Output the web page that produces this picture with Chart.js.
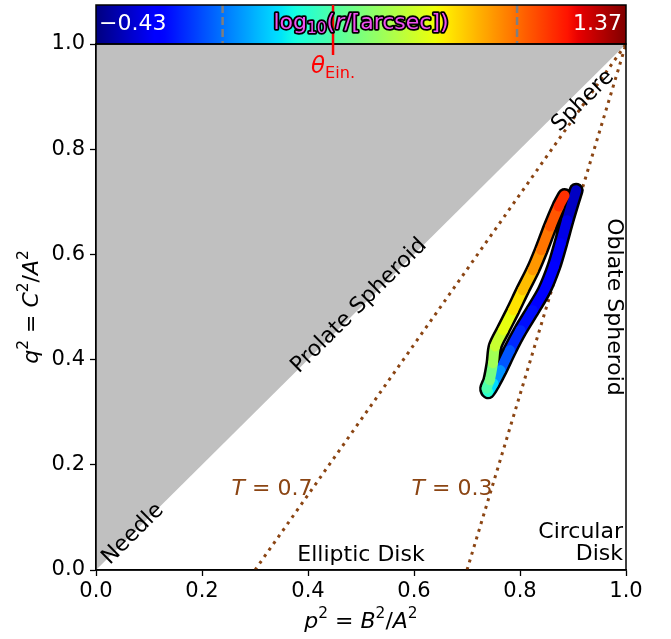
<!DOCTYPE html>
<html><head><meta charset="utf-8">
<script src="https://cdn.jsdelivr.net/npm/chart.js@4.4.0/dist/chart.umd.min.js"></script>
<style>html,body{margin:0;padding:0;background:#fff}</style>
</head><body>
<canvas id="c" width="671" height="639"></canvas>
<script>
// ---- data ----
const profileP2 = [0.906,0.889,0.877,0.864,0.846,0.824,0.801,0.781,0.763,0.750,0.740,0.737,0.743,0.749,0.753,0.768,0.787,0.805,0.824,0.840,0.857,0.873,0.884];
const profileQ2 = [0.722,0.665,0.621,0.577,0.532,0.494,0.456,0.418,0.380,0.355,0.339,0.345,0.361,0.393,0.425,0.456,0.494,0.532,0.570,0.608,0.653,0.691,0.712];
const profileLogR = [-0.36,-0.29,-0.25,-0.23,-0.21,-0.20,-0.16,-0.11,0.00,0.11,0.25,0.33,0.40,0.51,0.60,0.67,0.74,0.81,0.88,0.96,1.01,1.08,1.15];
const diagP2 = [0,1];
const diagQ2 = [0,1];
const t07P2 = [0.3,1.0];
const t07Q2 = [0.0,1.0];
const t03P2 = [0.7,1.0];
const t03Q2 = [0.0,1.0];
const xTickValues = [0,0.2,0.4,0.6,0.8,1.0];
const yTickValues = [0,0.2,0.4,0.6,0.8,1.0];
const colorbarMin = -0.43;
const colorbarMax = 1.37;
const colorbarDashed = [0.0, 1.0];
const thetaEinLogR = 0.375;

const FONT = '"DejaVu Sans", "Liberation Sans", sans-serif';
const BROWN = '#8B4513';

function interp(pts, t){
  for(let i=1;i<pts.length;i++){
    if(t<=pts[i][0]){const a=pts[i-1],b=pts[i];return a[1]+(b[1]-a[1])*(t-a[0])/(b[0]-a[0]);}
  }
  return pts[pts.length-1][1];
}
function jet(t){
  t=Math.max(0,Math.min(1,t));
  const r=interp([[0,0],[0.35,0],[0.66,1],[0.89,1],[1,0.5]],t);
  const g=interp([[0,0],[0.125,0],[0.375,1],[0.64,1],[0.91,0],[1,0]],t);
  const b=interp([[0,0.5],[0.11,1],[0.34,1],[0.65,0],[1,0]],t);
  return `rgb(${Math.round(r*255)},${Math.round(g*255)},${Math.round(b*255)})`;
}
const norm = v => (v-colorbarMin)/(colorbarMax-colorbarMin);
const pts = (xs,ys)=>xs.map((x,i)=>({x, y:ys[i]}));

function drawRich(ctx, parts, x, y, o){
  const size=o.size;
  const m=[]; let w=0;
  for(const p of parts){
    const fs=(p.sup||p.sub)?size*0.7:size;
    const font=(p.it?'italic ':'')+fs+'px '+FONT;
    ctx.font=font;
    const pw=ctx.measureText(p.t).width;
    m.push({font,pw,dy:p.sup?-size*0.38:(p.sub?size*0.28:0)});
    w+=pw;
  }
  ctx.save();
  ctx.translate(x,y);
  if(o.rot) ctx.rotate(o.rot);
  let cx=o.align==='left'?0:(o.align==='right'?-w:-w/2);
  ctx.textBaseline='middle'; ctx.textAlign='left';
  parts.forEach((p,i)=>{
    ctx.font=m[i].font;
    if(o.stroke){ctx.lineWidth=o.strokeW;ctx.strokeStyle=o.stroke;ctx.lineJoin='round';ctx.strokeText(p.t,cx,m[i].dy);}
    ctx.fillStyle=o.color||'#000';
    ctx.fillText(p.t,cx,m[i].dy);
    cx+=m[i].pw;
  });
  ctx.restore();
}

const decor = {
  id:'decor',
  afterDraw(chart){
    const ctx=chart.ctx, a=chart.chartArea;
    const cbTop=5, cbBot=a.top;
    const cbX = v => a.left + norm(v)*(a.right-a.left);
    const g=ctx.createLinearGradient(a.left,0,a.right,0);
    for(let i=0;i<=100;i++){g.addColorStop(i/100, jet(i/100));}
    ctx.save();
    ctx.fillStyle=g;
    ctx.fillRect(a.left,cbTop,a.right-a.left,cbBot-cbTop);
    ctx.strokeStyle='#7f7f7f'; ctx.lineWidth=2.5; ctx.setLineDash([8,4]);
    for(const v of colorbarDashed){
      const x=cbX(v); ctx.beginPath(); ctx.moveTo(x,cbTop); ctx.lineTo(x,cbBot); ctx.stroke();
    }
    ctx.setLineDash([]);
    ctx.strokeStyle='#000'; ctx.lineWidth=1.5;
    ctx.strokeRect(a.left,cbTop,a.right-a.left,cbBot-cbTop);
    ctx.strokeRect(a.left,a.top,a.right-a.left,a.bottom-a.top);
    const tx=cbX(thetaEinLogR);
    ctx.strokeStyle='#ff0000'; ctx.lineWidth=2.5;
    ctx.beginPath(); ctx.moveTo(tx,cbTop); ctx.lineTo(tx,a.top+11); ctx.stroke();
    ctx.restore();
    drawRich(ctx,[{t:'\u22120.43'}],a.left+3,24,{size:22,align:'left',color:'#fff'});
    drawRich(ctx,[{t:'1.37'}],a.right-4,24,{size:22,align:'right',color:'#fff'});
    drawRich(ctx,[{t:'log'},{t:'10',sub:true},{t:'('},{t:'r',it:true},{t:'/[arcsec])'}],(a.left+a.right)/2,23,{size:22,color:'#f050f0',stroke:'#000',strokeW:3.5});
    drawRich(ctx,[{t:'\u03B8',it:true},{t:'Ein.',sub:true}],tx,67,{size:23,color:'#ff0000'});
    const diagRot=-Math.atan2(a.bottom-a.top,a.right-a.left);
    drawRich(ctx,[{t:'Needle'}],133,534,{size:22,rot:diagRot});
    drawRich(ctx,[{t:'Prolate Spheroid'}],359,306,{size:22,rot:diagRot});
    drawRich(ctx,[{t:'Sphere'}],583,101,{size:22,rot:diagRot});
    drawRich(ctx,[{t:'Oblate Spheroid'}],614,307,{size:22,rot:Math.PI/2});
    drawRich(ctx,[{t:'T',it:true},{t:' = 0.7'}],272,489,{size:22,color:BROWN});
    drawRich(ctx,[{t:'T',it:true},{t:' = 0.3'}],452,489,{size:22,color:BROWN});
    drawRich(ctx,[{t:'Elliptic Disk'}],361,555,{size:22});
    drawRich(ctx,[{t:'Circular'}],623,532,{size:22,align:'right'});
    drawRich(ctx,[{t:'Disk'}],623,554,{size:22,align:'right'});
    drawRich(ctx,[{t:'p',it:true},{t:'2',sup:true},{t:' = '},{t:'B',it:true},{t:'2',sup:true},{t:'/'},{t:'A',it:true},{t:'2',sup:true}],(a.left+a.right)/2,622,{size:22});
    drawRich(ctx,[{t:'q',it:true},{t:'2',sup:true},{t:' = '},{t:'C',it:true},{t:'2',sup:true},{t:'/'},{t:'A',it:true},{t:'2',sup:true}],32,(a.top+a.bottom)/2,{size:22,rot:-Math.PI/2});
  }
};

const tickCommon = {
  font:{family:FONT,size:21}, color:'#000',
  callback:v=>Number(v).toFixed(1)
};
const gridCommon = {drawOnChartArea:false, drawTicks:true, tickLength:6, tickWidth:1.3, color:'#000'};

new Chart(document.getElementById('c'),{
  type:'scatter',
  data:{datasets:[
    {data:pts(diagP2,diagQ2), showLine:true, fill:'end', backgroundColor:'#c0c0c0', borderColor:'rgba(0,0,0,0)', borderWidth:0, pointRadius:0, order:6},
    {data:pts(t07P2,t07Q2), showLine:true, borderColor:BROWN, borderWidth:3, borderDash:[3,5], pointRadius:0, order:5},
    {data:pts(t03P2,t03Q2), showLine:true, borderColor:BROWN, borderWidth:3, borderDash:[3,5], pointRadius:0, order:4},
    {data:pts(profileP2,profileQ2), showLine:true, borderColor:'#000', borderWidth:15, tension:0.3, borderJoinStyle:'round', borderCapStyle:'round', pointRadius:0, order:2},
    {data:pts(profileP2,profileQ2), showLine:true, borderWidth:10, tension:0.3, borderJoinStyle:'round', borderCapStyle:'round', pointRadius:0, order:1,
      borderColor:jet(norm(profileLogR[0])),
      segment:{borderColor:c=>jet(norm((profileLogR[c.p0DataIndex]+profileLogR[c.p1DataIndex])/2))}}
  ]},
  options:{
    responsive:false, animation:false,
    layout:{padding:{left:0,right:45,top:44,bottom:0}},
    plugins:{legend:{display:false},tooltip:{enabled:false}},
    scales:{
      x:{type:'linear',min:0,max:1,
        afterBuildTicks:s=>{s.ticks=xTickValues.map(v=>({value:v}));},
        afterFit:s=>{s.height=69;},
        ticks:{...tickCommon,padding:3,maxRotation:0,autoSkip:false},
        grid:gridCommon, border:{display:true,color:'#000',width:1.5}},
      y:{type:'linear',min:0,max:1,
        afterBuildTicks:s=>{s.ticks=yTickValues.map(v=>({value:v}));},
        afterFit:s=>{s.width=96;},
        ticks:{...tickCommon,padding:5,autoSkip:false},
        grid:gridCommon, border:{display:true,color:'#000',width:1.5}}
    }
  },
  plugins:[decor]
});
</script>
</body></html>
